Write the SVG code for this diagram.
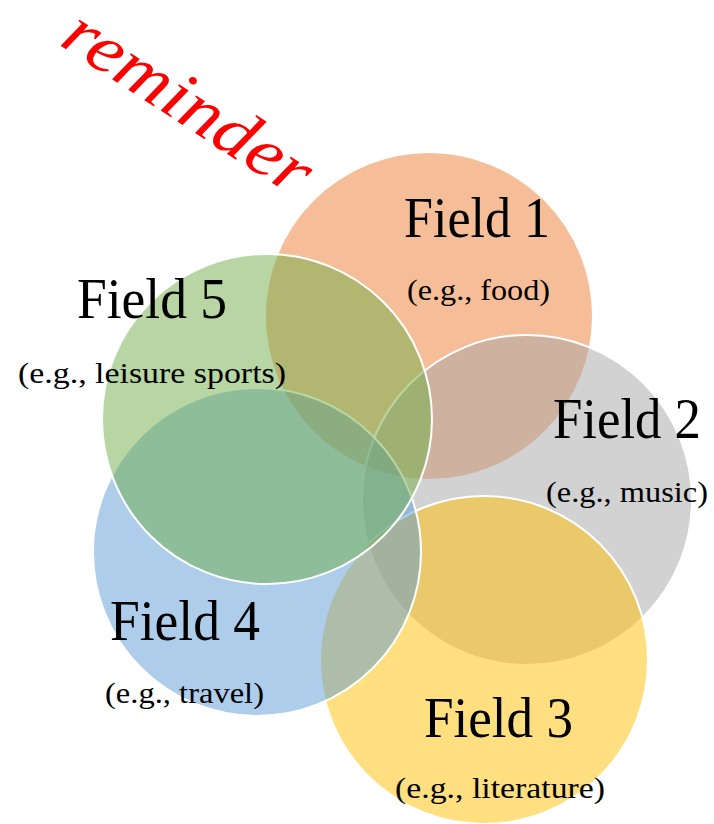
<svg xmlns="http://www.w3.org/2000/svg" width="714" height="824" viewBox="0 0 714 824">
<style>
.c{stroke:#fff;stroke-width:2;fill-opacity:0.5}
.t{font-family:"Liberation Serif","Times New Roman",serif;fill:#000;text-anchor:start}
.h{font-size:56px}
.s{font-size:29px}
.r{font-family:"Liberation Serif","Times New Roman",serif;font-style:italic;font-size:70px;fill:#ff0000}
</style>
<rect width="714" height="824" fill="#fff"/>
<g id="reminder">
<text class="r" transform="translate(58,44) rotate(33)" textLength="282" lengthAdjust="spacingAndGlyphs">reminder</text>
</g>
<g id="field1">
<circle class="c" cx="429" cy="316" r="164" fill="#ED7D31"/>
<text class="t h" x="404" y="237" textLength="146" lengthAdjust="spacingAndGlyphs">Field 1</text>
<text class="t s" x="407" y="300" textLength="143" lengthAdjust="spacingAndGlyphs">(e.g., food)</text>
</g>
<g id="field2">
<circle class="c" cx="527" cy="500" r="165" fill="#A5A5A5"/>
<text class="t h" x="553" y="438" textLength="148" lengthAdjust="spacingAndGlyphs">Field 2</text>
<text class="t s" x="546" y="502" textLength="162" lengthAdjust="spacingAndGlyphs">(e.g., music)</text>
</g>
<g id="field3">
<circle class="c" cx="484" cy="660" r="164" fill="#FFC000"/>
<text class="t h" x="424" y="737" textLength="149" lengthAdjust="spacingAndGlyphs">Field 3</text>
<text class="t s" x="395" y="798" textLength="210" lengthAdjust="spacingAndGlyphs">(e.g., literature)</text>
</g>
<g id="field4">
<circle class="c" cx="257" cy="552" r="164" fill="#5B9BD5"/>
<text class="t h" x="110" y="640" textLength="150" lengthAdjust="spacingAndGlyphs">Field 4</text>
<text class="t s" x="105" y="703" textLength="159" lengthAdjust="spacingAndGlyphs">(e.g., travel)</text>
</g>
<g id="field5">
<circle class="c" cx="267" cy="419" r="165" fill="#70AD47"/>
<text class="t h" x="77" y="318" textLength="150" lengthAdjust="spacingAndGlyphs">Field 5</text>
<text class="t s" x="18" y="383" textLength="268" lengthAdjust="spacingAndGlyphs">(e.g., leisure sports)</text>
</g>
<g id="connectors"/>
</svg>
